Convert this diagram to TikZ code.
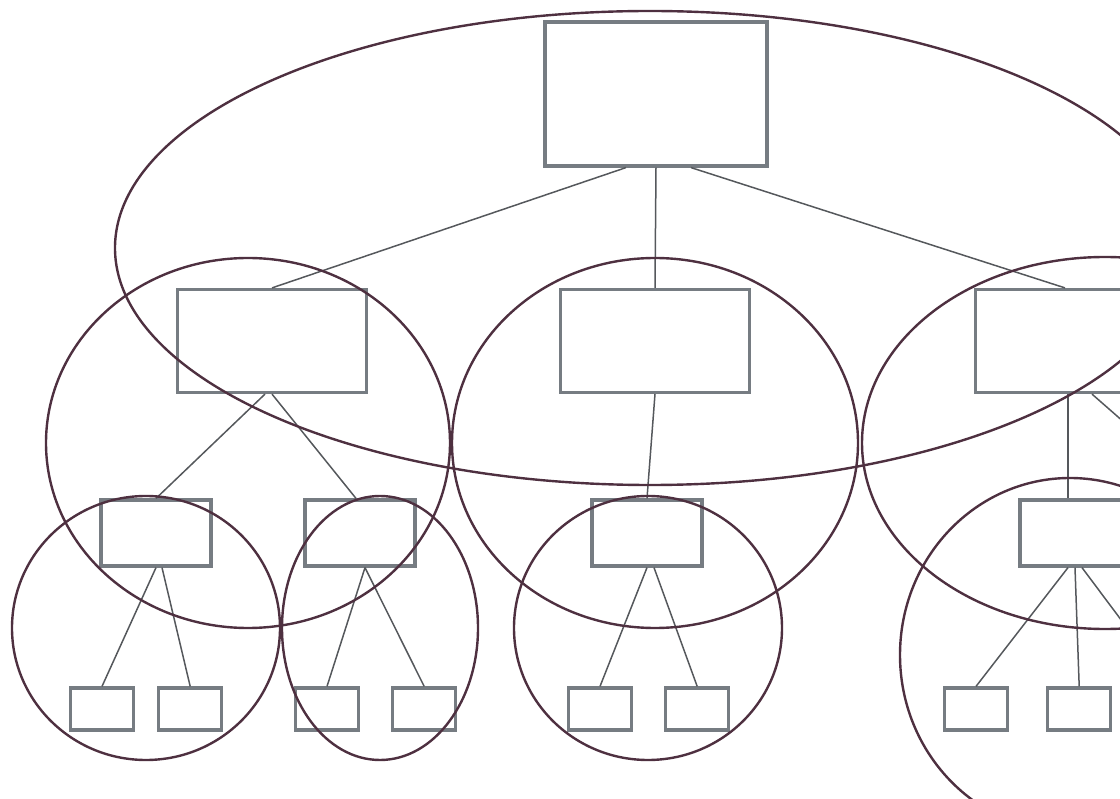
\documentclass[tikz,border=0pt]{standalone}
\usetikzlibrary{positioning}
\definecolor{boxgray}{HTML}{767C82}
\definecolor{ringred}{HTML}{4E3040}
\definecolor{wiregray}{HTML}{55585C}

\begin{document}
\begin{tikzpicture}[x=1pt,y=-1pt,
    unit/.style={draw=boxgray,line width=3.2pt,inner sep=0pt},
    big/.style={unit,minimum width=222pt,minimum height=144pt},
    mid/.style={unit,minimum width=189pt,minimum height=103pt},
    small/.style={unit,minimum width=110pt,minimum height=66pt},
    leaf/.style={unit,minimum width=63pt,minimum height=42pt},
    link/.style={draw=wiregray,line width=1.5pt},
    ring/.style={draw=ringred,line width=2.4pt}]
    \useasboundingbox (0,0) rectangle (1120,799);
    \clip (0,0) rectangle (1120,799);
    % boxes
    \node[big] (top) at (656,94) {};
    \node[mid] (mA) at (272,341) {};
    \node[mid] (mB) at (655,341) {};
    \node[mid] (mC) at (1070,341) {};
    \node[small] (sA1) at (156,533) {};
    \node[small] (sA2) at (360,533) {};
    \node[small] (sB) at (647,533) {};
    \node[small] (sC) at (1075,533) {};
    \node[leaf] (lA1) at (102,709) {};
    \node[leaf, right=22pt of lA1] (lA2) {};
    \node[leaf] (lA3) at (327,709) {};
    \node[leaf, right=31pt of lA3] (lA4) {};
    \node[leaf] (lB1) at (600,709) {};
    \node[leaf, right=31pt of lB1] (lB2) {};
    \node[leaf] (lC1) at (976,709) {};
    \node[leaf, right=37pt of lC1] (lC2) {};
    \coordinate (cR1) at (1190,480);
    \coordinate (cR2) at (1172,688);
    % links
    \draw[link] ([xshift=-30pt]top.south) -- (mA.north);
    \draw[link] (top.south) -- (mB.north);
    \draw[link] ([xshift=35pt]top.south) -- ([xshift=-5pt]mC.north);
    \draw[link] ([xshift=-7pt]mA.south) -- (sA1.north);
    \draw[link] (mA.south) -- ([xshift=-4pt]sA2.north);
    \draw[link] (mB.south) -- (sB.north);
    \draw[link] ([xshift=-2pt]mC.south) -- ([xshift=-7pt]sC.north);
    \draw[link] ([xshift=22pt]mC.south) -- (cR1);
    \draw[link] (sA1.south) -- (lA1.north);
    \draw[link] ([xshift=6pt]sA1.south) -- (lA2.north);
    \draw[link] ([xshift=5pt]sA2.south) -- (lA3.north);
    \draw[link] ([xshift=5pt]sA2.south) -- (lA4.north);
    \draw[link] (sB.south) -- (lB1.north);
    \draw[link] ([xshift=7pt]sB.south) -- (lB2.north);
    \draw[link] ([xshift=-7pt]sC.south) -- (lC1.north);
    \draw[link] (sC.south) -- (lC2.north);
    \draw[link] ([xshift=7pt]sC.south) -- (cR2);
    % groups
    \draw[ring] (650,248) ellipse [x radius=535pt, y radius=237pt];
    \draw[ring] (248,443) ellipse [x radius=202pt, y radius=185pt];
    \draw[ring] (655,443) ellipse [x radius=203pt, y radius=185pt];
    \draw[ring] (1105,443) ellipse [x radius=243pt, y radius=186pt];
    \draw[ring] (146,628) ellipse [x radius=134pt, y radius=132pt];
    \draw[ring] (380,628) ellipse [x radius=98pt, y radius=132pt];
    \draw[ring] (648,628) ellipse [x radius=134pt, y radius=132pt];
    \draw[ring] (1070,655) ellipse [x radius=170pt, y radius=177pt];
\end{tikzpicture}
\end{document}
